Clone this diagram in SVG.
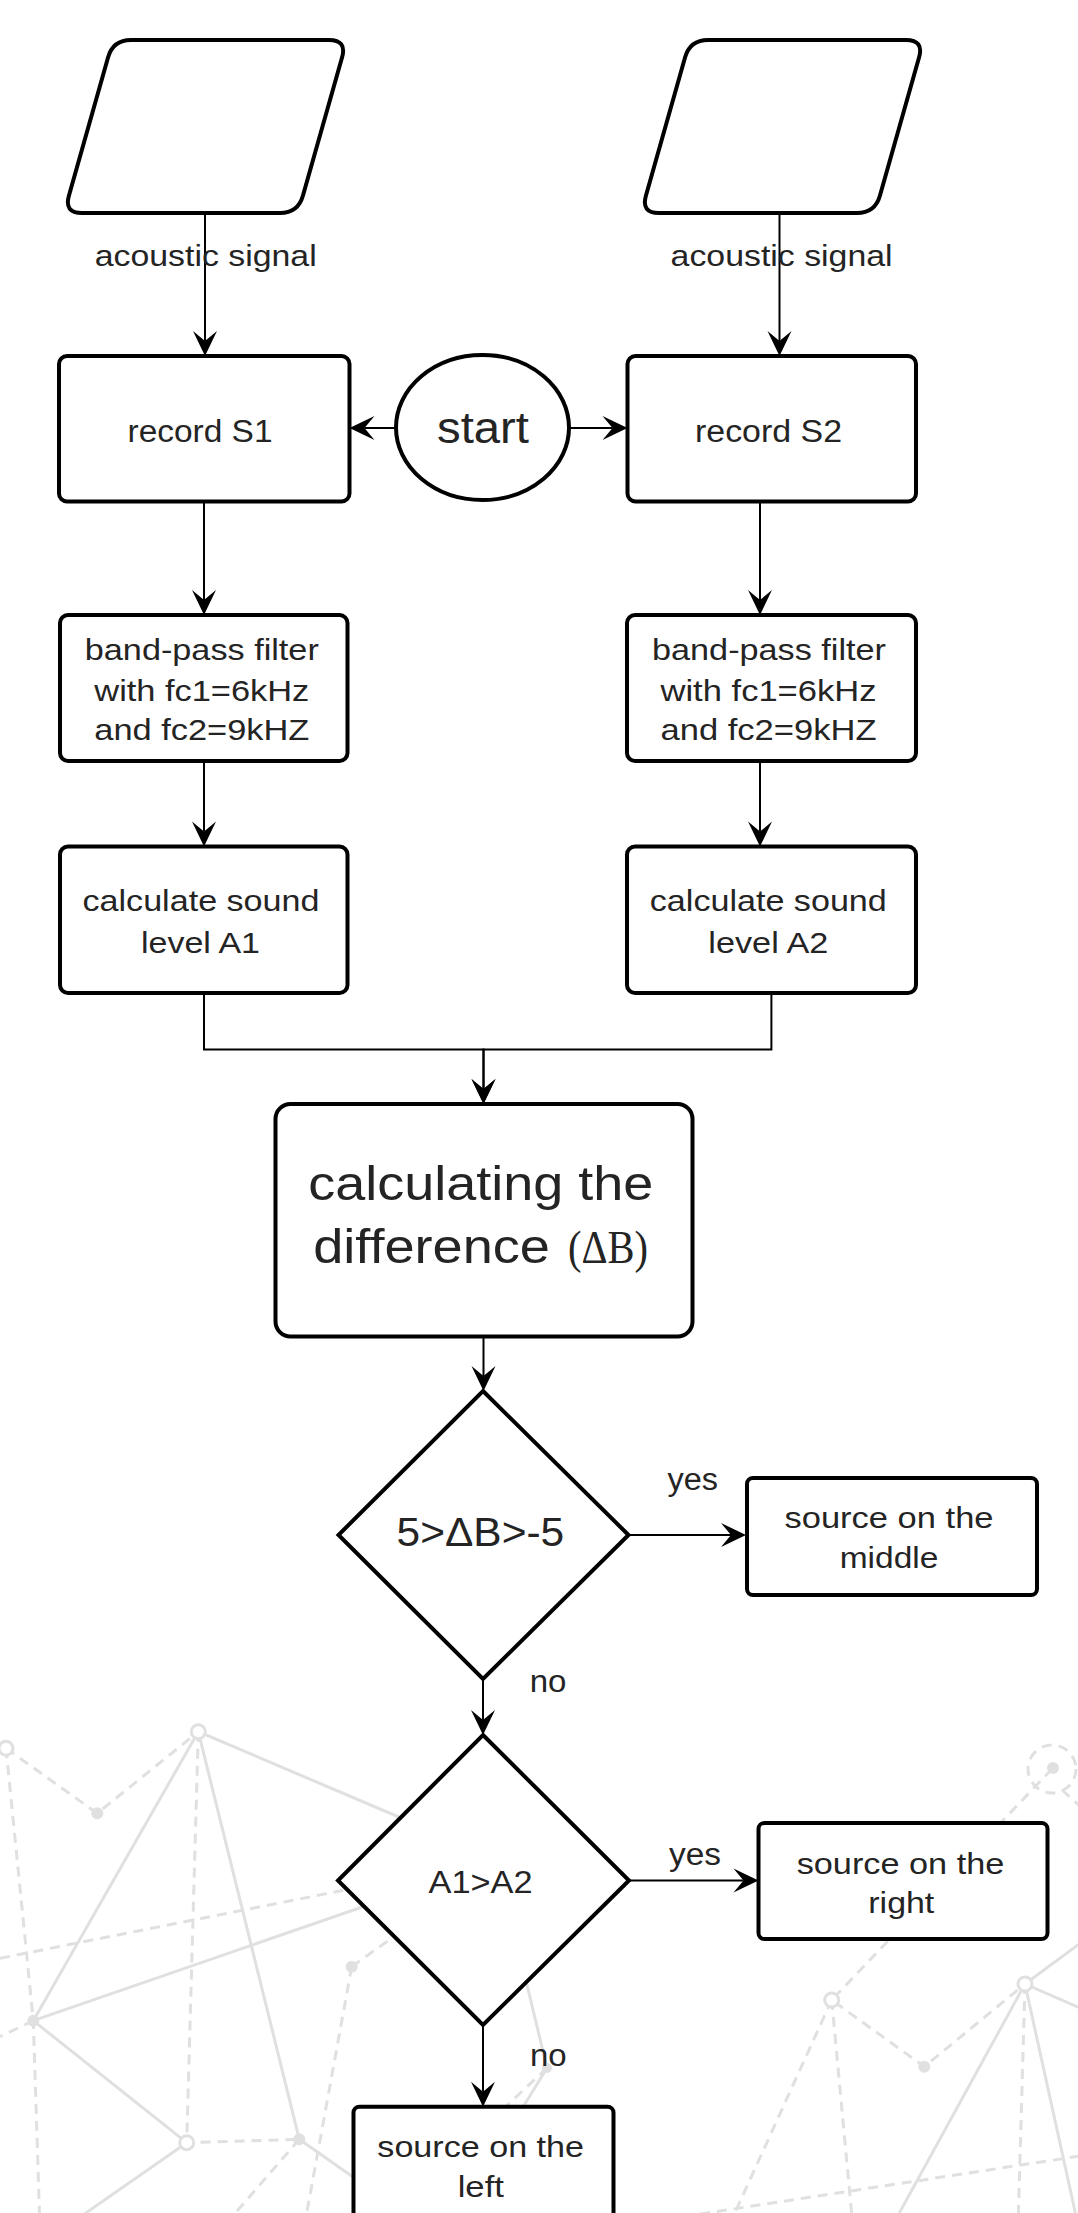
<svg xmlns="http://www.w3.org/2000/svg" width="1078" height="2213" viewBox="0 0 1078 2213">
<defs>
<style>
.t{font-family:'Liberation Sans',Arial,sans-serif;fill:#242424;text-anchor:middle}
.ts{font-family:'Liberation Serif','Times New Roman',serif;fill:#242424}
.box{fill:#fff;stroke:#000;stroke-width:4}
.conn{fill:none;stroke:#000;stroke-width:2}
.bg{fill:none;stroke:#e0e0e0;stroke-width:3}
.bgd{fill:none;stroke:#e0e0e0;stroke-width:3;stroke-dasharray:10 7}
.oc{fill:#fff;stroke:#e0e0e0;stroke-width:3}
.fc{fill:#e0e0e0}
</style>
<marker id="ah" viewBox="-11 -13 27 26" refX="0" refY="0" markerWidth="27" markerHeight="26" markerUnits="userSpaceOnUse" orient="auto">
<path d="M15,0 L-10,-12 L0,0 L-10,12 Z" fill="#000"/>
</marker>
</defs>
<rect x="0" y="0" width="1078" height="2213" fill="#fff"/>

<g id="background">
<path class="bg" d="M198.3,1731.7 L420,1826 M198.3,1731.7 L33.3,2020.7 M198.3,1731.7 L299.3,2139.3 M33.3,2020.7 L400,1894 M33.3,2020.7 L186.7,2142.7 M186.7,2142.7 L60,2231 M299.3,2139.3 L380,2196 M515,1935 L547,2068 M547,2068 L515,2120 M1025,1984 L1090,1936 M1025,1984 L1080,2008 M1025,1984 L890,2230 M1025,1984 L1078,2225"/>
<path class="bgd" d="M6,1748.3 L97.3,1813.3 L198.3,1731.7 M6,1748.3 L33.3,2020.7 L40,2230 M198.3,1731.7 L186.7,2142.7 L299.3,2139.3 M33.3,2020.7 L0,2036.5 M0,1958.3 L360,1887 M299.3,2139.3 L225,2225 M351.7,1966.7 L304,2228 M351.7,1966.7 L410,1925 M547,2068 L500,2112 M1052,1769 L831.7,2000 L924.3,2066.7 L1025,1984 M831.7,2000 L728,2228 M831.7,2000 L853,2228 M1025,1984 L1018,2228 M700,2214 L1080,2156 M1062,1790 L1080,1806"/>
<circle class="oc" cx="198.3" cy="1731.7" r="7"/>
<circle class="oc" cx="6" cy="1748.3" r="7"/>
<circle class="fc" cx="97.3" cy="1813.3" r="6"/>
<circle class="fc" cx="33.3" cy="2020.7" r="6"/>
<circle class="oc" cx="186.7" cy="2142.7" r="7"/>
<circle class="fc" cx="299.3" cy="2139.3" r="6"/>
<circle class="fc" cx="351.7" cy="1966.7" r="6"/>
<circle class="fc" cx="547" cy="2068" r="5"/>
<circle class="bgd" cx="1052" cy="1769" r="24"/>
<circle class="fc" cx="1053" cy="1768" r="6"/>
<circle class="oc" cx="831.7" cy="2000" r="7"/>
<circle class="fc" cx="924.3" cy="2066.7" r="6"/>
<circle class="oc" cx="1025" cy="1984" r="7"/>
</g>

<g id="connectors">
<path class="conn" d="M205,213 V341" marker-end="url(#ah)"/>
<path class="conn" d="M779.5,213 V341" marker-end="url(#ah)"/>
<path class="conn" d="M396,428 H364.5" marker-end="url(#ah)"/>
<path class="conn" d="M569,428 H612.5" marker-end="url(#ah)"/>
<path class="conn" d="M204,501.5 V600" marker-end="url(#ah)"/>
<path class="conn" d="M760,501.5 V600" marker-end="url(#ah)"/>
<path class="conn" d="M204,761 V831.6" marker-end="url(#ah)"/>
<path class="conn" d="M760,761 V831.6" marker-end="url(#ah)"/>
<path class="conn" d="M204,993 V1049.5 H483.5 V1089" marker-end="url(#ah)"/>
<path class="conn" d="M771.4,993 V1049.5 H483.5 V1089" marker-end="url(#ah)"/>
<path class="conn" d="M483.5,1336.5 V1376" marker-end="url(#ah)"/>
<path class="conn" d="M628.5,1535 H731" marker-end="url(#ah)"/>
<path class="conn" d="M483,1679 V1720" marker-end="url(#ah)"/>
<path class="conn" d="M629,1880.5 H743.5" marker-end="url(#ah)"/>
<path class="conn" d="M483,2025 V2091.7" marker-end="url(#ah)"/>
<text class="t" x="205.7" y="265.7" font-size="29" textLength="222" lengthAdjust="spacingAndGlyphs">acoustic signal</text>
<text class="t" x="781.6" y="265.7" font-size="29" textLength="222" lengthAdjust="spacingAndGlyphs">acoustic signal</text>
<text class="t" x="692.7" y="1490" font-size="31" textLength="50.5" lengthAdjust="spacingAndGlyphs">yes</text>
<text class="t" x="548" y="1692" font-size="31" textLength="36.7" lengthAdjust="spacingAndGlyphs">no</text>
<text class="t" x="695" y="1865" font-size="31" textLength="52" lengthAdjust="spacingAndGlyphs">yes</text>
<text class="t" x="548.3" y="2066" font-size="31" textLength="36.7" lengthAdjust="spacingAndGlyphs">no</text>
</g>

<g id="input1">
<path class="box" d="M131,40 H329 Q347,40 342.1,57.3 L302.9,195.7 Q298,213 280,213 H82 Q64,213 68.9,195.7 L108.1,57.3 Q113,40 131,40 Z"/>
</g>
<g id="input2">
<path class="box" transform="translate(577,0)" d="M131,40 H329 Q347,40 342.1,57.3 L302.9,195.7 Q298,213 280,213 H82 Q64,213 68.9,195.7 L108.1,57.3 Q113,40 131,40 Z"/>
</g>

<g id="start">
<ellipse class="box" cx="482.5" cy="427.5" rx="86.5" ry="72.5"/>
<text class="t" x="483" y="443.3" font-size="45" textLength="92" lengthAdjust="spacingAndGlyphs">start</text>
</g>

<g id="recordS1">
<rect class="box" x="59" y="356" width="290.5" height="145.5" rx="8"/>
<text class="t" x="200" y="441.7" font-size="31" textLength="145" lengthAdjust="spacingAndGlyphs">record S1</text>
</g>
<g id="recordS2">
<rect class="box" x="627.5" y="356" width="288.5" height="145.5" rx="8"/>
<text class="t" x="768.5" y="441.7" font-size="31" textLength="147" lengthAdjust="spacingAndGlyphs">record S2</text>
</g>

<g id="filter1">
<rect class="box" x="60" y="615" width="287.5" height="146" rx="8"/>
<text class="t" x="201.8" y="660" font-size="30" textLength="234" lengthAdjust="spacingAndGlyphs">band-pass filter</text>
<text class="t" x="201.8" y="700.7" font-size="30" textLength="215" lengthAdjust="spacingAndGlyphs">with fc1=6kHz</text>
<text class="t" x="201.8" y="740" font-size="30" textLength="215" lengthAdjust="spacingAndGlyphs">and fc2=9kHZ</text>
</g>
<g id="filter2">
<rect class="box" x="627" y="615" width="289" height="146" rx="8"/>
<text class="t" x="769" y="660" font-size="30" textLength="234" lengthAdjust="spacingAndGlyphs">band-pass filter</text>
<text class="t" x="768.5" y="700.7" font-size="30" textLength="216" lengthAdjust="spacingAndGlyphs">with fc1=6kHz</text>
<text class="t" x="768.5" y="740" font-size="30" textLength="216" lengthAdjust="spacingAndGlyphs">and fc2=9kHZ</text>
</g>

<g id="level1">
<rect class="box" x="60" y="846.6" width="287.5" height="146.4" rx="8"/>
<text class="t" x="201" y="911.2" font-size="30" textLength="237" lengthAdjust="spacingAndGlyphs">calculate sound</text>
<text class="t" x="200.5" y="952.5" font-size="30" textLength="119" lengthAdjust="spacingAndGlyphs">level A1</text>
</g>
<g id="level2">
<rect class="box" x="627" y="846.6" width="289" height="146.4" rx="8"/>
<text class="t" x="768.3" y="911.2" font-size="30" textLength="237" lengthAdjust="spacingAndGlyphs">calculate sound</text>
<text class="t" x="768.3" y="952.5" font-size="30" textLength="120" lengthAdjust="spacingAndGlyphs">level A2</text>
</g>

<g id="difference">
<rect class="box" x="275.5" y="1104" width="417" height="232.5" rx="15"/>
<text class="t" x="480.8" y="1200" font-size="48" textLength="345" lengthAdjust="spacingAndGlyphs">calculating the</text>
<text class="t" x="431.6" y="1263.3" font-size="48" textLength="236.7" lengthAdjust="spacingAndGlyphs">difference</text>
<text class="ts" x="568" y="1263.3" font-size="46" textLength="80" lengthAdjust="spacingAndGlyphs">(ΔB)</text>
</g>

<g id="decision1">
<polygon class="box" points="483,1391 628.5,1535 483,1679 338.5,1535"/>
<text class="t" x="480.4" y="1545.7" font-size="40" textLength="167.6" lengthAdjust="spacingAndGlyphs">5&gt;ΔB&gt;-5</text>
</g>

<g id="middle">
<rect class="box" x="747" y="1478" width="290" height="117" rx="6"/>
<text class="t" x="889" y="1528.3" font-size="30" textLength="209" lengthAdjust="spacingAndGlyphs">source on the</text>
<text class="t" x="889" y="1568.3" font-size="30" textLength="98.7" lengthAdjust="spacingAndGlyphs">middle</text>
</g>

<g id="decision2">
<polygon class="box" points="483,1735 629,1880.5 483,2025 338,1880.5"/>
<text class="t" x="480.5" y="1893.3" font-size="31" textLength="104" lengthAdjust="spacingAndGlyphs">A1&gt;A2</text>
</g>

<g id="right">
<rect class="box" x="758.5" y="1823" width="289" height="116" rx="6"/>
<text class="t" x="900.5" y="1874" font-size="30" textLength="207.6" lengthAdjust="spacingAndGlyphs">source on the</text>
<text class="t" x="901.3" y="1913.3" font-size="30" textLength="66" lengthAdjust="spacingAndGlyphs">right</text>
</g>

<g id="left">
<rect class="box" x="353.5" y="2106.7" width="260" height="140" rx="6"/>
<text class="t" x="480.7" y="2156.7" font-size="30" textLength="206.7" lengthAdjust="spacingAndGlyphs">source on the</text>
<text class="t" x="480.8" y="2197.3" font-size="30" textLength="46.3" lengthAdjust="spacingAndGlyphs">left</text>
</g>
</svg>
